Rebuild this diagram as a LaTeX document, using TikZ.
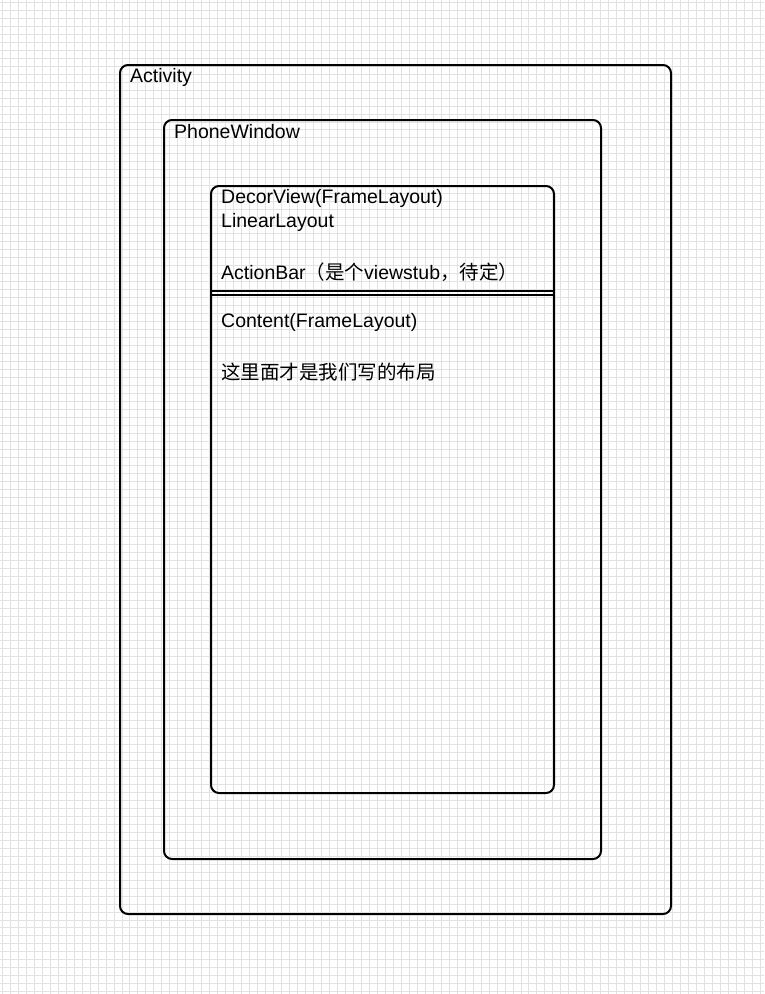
\documentclass[tikz,border=0pt]{standalone}
\usepackage{fontspec}
\setmainfont{Liberation Sans}
\newfontfamily\cjk{Noto Sans CJK SC}
\begin{document}
\begin{tikzpicture}[x=1pt,y=-1pt,
  frame/.style={draw=black,line width=2pt,rounded corners=8pt,fill=none},
  lbl/.style={anchor=west,inner sep=0pt,font=\fontsize{19.5}{24.5}\selectfont,align=left},
  gridline/.style={draw={rgb,255:red,226;green,226;blue,226},line width=1pt}]
\fill[white] (0,0) rectangle (764,994);
\useasboundingbox (0,0) rectangle (764,994);
\foreach \i in {0,...,95} {
  \draw[gridline] (2.3+\i*7.98,0) -- (2.3+\i*7.98,994);
}
\foreach \j in {0,...,124} {
  \draw[gridline] (0,2.3+\j*7.98) -- (764,2.3+\j*7.98);
}
% boxes
\node[frame,minimum width=551pt,minimum height=849pt,anchor=north west,inner sep=0pt] (activity) at (119,64) {};
\node[frame,minimum width=437pt,minimum height=739pt,anchor=north west,inner sep=0pt] (phone) at (163,119) {};
\node[frame,minimum width=343pt,minimum height=607pt,anchor=north west,inner sep=0pt] (decor) at (210,185) {};
\coordinate (sepL1) at (210,291);
\coordinate (sepR1) at (553,291);
\coordinate (sepL2) at (210,295);
\coordinate (sepR2) at (553,295);
\draw[line width=1.7pt] (sepL1) -- (sepR1);
\draw[line width=1.7pt] (sepL2) -- (sepR2);
% labels
\node[lbl] (tact) at (130,77) {Activity};
\node[lbl] (tphone) at (174,132) {PhoneWindow};
\node[lbl] (t1) at (221,198) {DecorView(FrameLayout)};
\node[lbl] (t2) at (221,222) {LinearLayout};
\node[lbl] (t3) at (221,272) {ActionBar{\cjk （是个}viewstub{\cjk ，待定）}};
\node[lbl] (t4) at (221,322) {Content(FrameLayout)};
\node[lbl] (t5) at (221,372) {\cjk 这里面才是我们写的布局};
\end{tikzpicture}
\end{document}
